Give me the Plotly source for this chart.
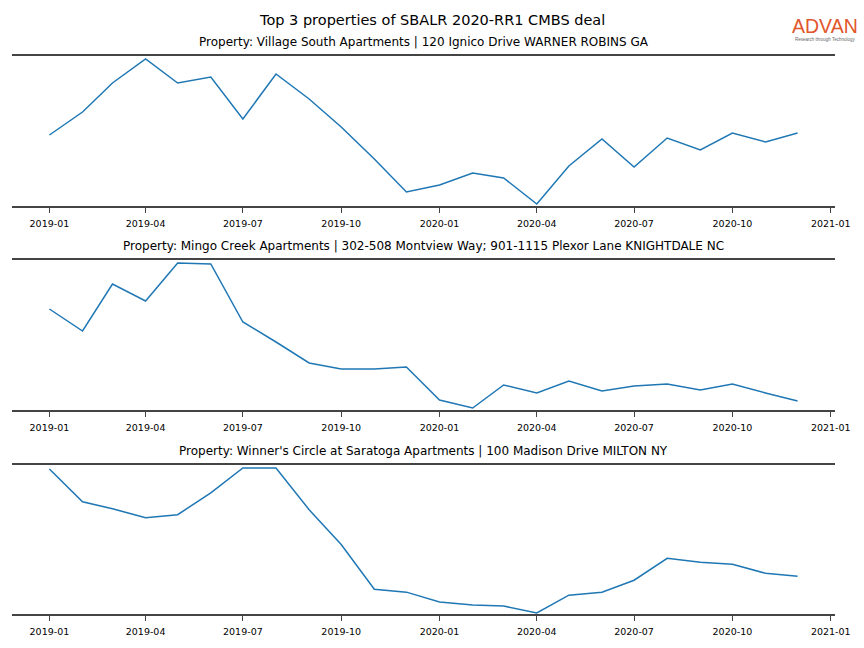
import plotly.graph_objects as go

months = [f"{y}-{m:02d}-01" for y in (2019, 2020) for m in range(1, 13)]

titles = [
    "Property: Village South Apartments | 120 Ignico Drive WARNER ROBINS GA",
    "Property: Mingo Creek Apartments | 302-508 Montview Way; 901-1115 Plexor Lane KNIGHTDALE NC",
    "Property: Winner's Circle at Saratoga Apartments | 100 Madison Drive MILTON NY",
]

village_south = [71, 94, 123, 147, 123, 129, 87, 132, 107, 79, 47, 14,
                 21, 33, 28, 2, 40, 67, 39, 68, 56, 73, 64, 73]
mingo_creek = [101, 79, 126, 109, 147, 146, 88, 68, 47, 41, 41, 43,
               10, 2, 25, 17, 29, 19, 24, 26, 20, 26, 17, 9]
winners_circle = [146, 113, 106, 97, 100, 122, 147, 147, 105, 70, 25, 22,
                  12, 9, 8, 1, 19, 22, 34, 56, 52, 50, 41, 38]

series = [village_south, mingo_creek, winners_circle]

tick_vals = ["2019-01-01", "2019-04-01", "2019-07-01", "2019-10-01", "2020-01-01",
             "2020-04-01", "2020-07-01", "2020-10-01", "2021-01-01"]
tick_text = ["2019-01", "2019-04", "2019-07", "2019-10", "2020-01",
             "2020-04", "2020-07", "2020-10", "2021-01"]

W, H = 864, 648
x_dom = [12 / W, 835 / W]
panels_px = [(56, 206), (260, 410), (465, 614)]

fig = go.Figure()
FONT = "DejaVu Sans"

for i, (vals, (top, bot)) in enumerate(zip(series, panels_px)):
    n = i + 1
    xa = "x" if n == 1 else f"x{n}"
    ya = "y" if n == 1 else f"y{n}"
    fig.add_trace(go.Scatter(x=months, y=vals, mode="lines",
                             line=dict(color="#1f77b4", width=1.5),
                             xaxis=xa, yaxis=ya, showlegend=False,
                             hoverinfo="x+y"))
    xkey = "xaxis" if n == 1 else f"xaxis{n}"
    ykey = "yaxis" if n == 1 else f"yaxis{n}"
    fig.layout[xkey] = dict(
        domain=x_dom, anchor=ya, type="date", automargin=False,
        range=["2018-11-27", "2021-01-05"],
        tickmode="array", tickvals=tick_vals, ticktext=tick_text,
        showline=True, mirror=True, linecolor="#444444", linewidth=2,
        ticks="outside", ticklen=5, tickwidth=1, tickcolor="#444444",
        ticklabelstandoff=3,
        showgrid=False, zeroline=False,
        tickfont=dict(family=FONT, size=9.5, color="#000000"),
    )
    fig.layout[ykey] = dict(
        domain=[1 - bot / H, 1 - top / H], anchor=xa, automargin=False,
        range=[0, 150], showticklabels=False, showgrid=False,
        zeroline=False, showline=False, ticks="",
    )
    fig.add_annotation(text=titles[i], xref="paper", yref="paper",
                       x=(x_dom[0] + x_dom[1]) / 2, y=1 - (top - 14) / H,
                       xanchor="center", yanchor="middle", showarrow=False,
                       font=dict(family=FONT, size=12, color="#000000"))

fig.add_annotation(text="Top 3 properties of SBALR 2020-RR1 CMBS deal",
                   xref="paper", yref="paper", x=432 / W, y=1 - 20 / H,
                   xanchor="center", yanchor="middle", showarrow=False,
                   font=dict(family=FONT, size=14.5, color="#000000"))

fig.add_annotation(text="ADVAN", xref="paper", yref="paper",
                   x=824.5 / W, y=1 - 26 / H, xanchor="center", yanchor="middle",
                   showarrow=False, borderpad=0,
                   font=dict(family="Liberation Sans", size=19.5, color="#E2562B"))
fig.add_annotation(text="Research through Technology", xref="paper", yref="paper",
                   x=824.5 / W, y=1 - 39 / H, xanchor="center", yanchor="middle",
                   showarrow=False, borderpad=0,
                   font=dict(family="Liberation Sans", size=4.5, color="#666666"))

fig.update_layout(width=W, height=H, margin=dict(l=0, r=0, t=0, b=0),
                  autosize=False,
                  paper_bgcolor="white", plot_bgcolor="white")

post = ("document.body.style.margin='0';"
        "document.body.style.overflow='hidden';"
        "var gd=document.getElementById('{plot_id}');"
        "Plotly.relayout(gd,{width:864,height:648});")

fig.write_html("out.html", post_script=post,
               config={"displayModeBar": False})
